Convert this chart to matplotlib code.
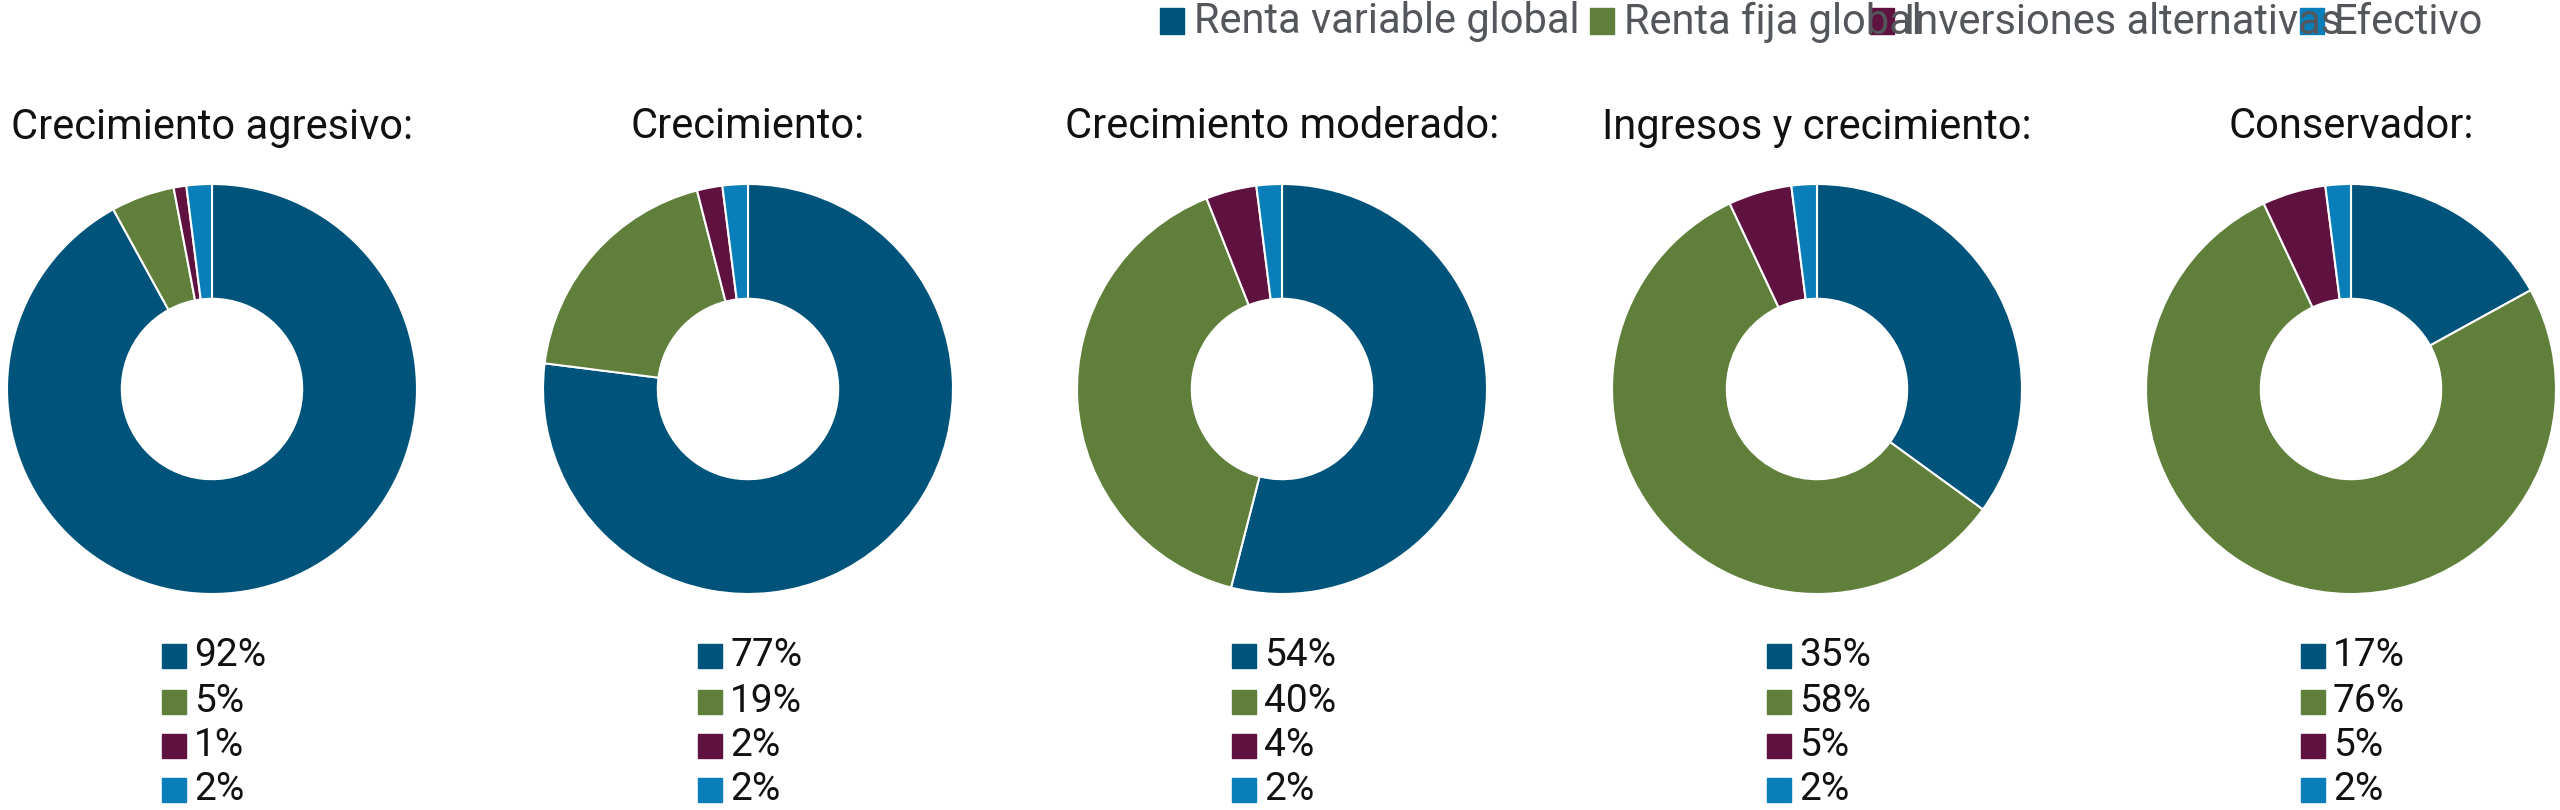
import matplotlib
matplotlib.use("Agg")
import matplotlib.pyplot as plt
from matplotlib.patches import Rectangle

titles = ["Crecimiento agresivo:", "Crecimiento:", "Crecimiento moderado:", "Ingresos y crecimiento:", "Conservador:"]
series = ["Renta variable global", "Renta fija global", "Inversiones alternativas", "Efectivo"]
renta_variable = [92, 77, 54, 35, 17]
renta_fija = [5, 19, 40, 58, 76]
alternativas = [1, 2, 4, 5, 5]
efectivo = [2, 2, 2, 2, 2]
colors = ["#00537A", "#5F7F3A", "#5F1240", "#0A7EB8"]

plt.rcParams['font.family'] = ['Liberation Sans Narrow', 'Roboto', 'DejaVu Sans']
W, H = 2560, 810
fig = plt.figure(figsize=(W/100, H/100), dpi=100)

centers = [212, 748, 1282, 1817, 2351]
cy, R = 389, 205
for i, cx in enumerate(centers):
    ax = fig.add_axes([(cx-R)/W, 1-(cy+R)/H, 2*R/W, 2*R/H])
    vals = [renta_variable[i], renta_fija[i], alternativas[i], efectivo[i]]
    ax.pie(vals, colors=colors, startangle=90, counterclock=False,
           wedgeprops=dict(width=0.56, edgecolor="white", linewidth=1.5))
    ax.set_aspect("equal")
    ax.set_xlim(-1, 1); ax.set_ylim(-1, 1)
    fig.text(cx/W, 1-127/H, titles[i], ha="center", va="center", fontsize=30, color="#111111")
    for j, y in enumerate([656, 702, 746, 790]):
        fig.patches.append(Rectangle(((cx-50)/W, 1-(y+12)/H), 24/W, 24/H,
                                     transform=fig.transFigure, color=colors[j]))
        fig.text((cx-18)/W, 1-y/H, f"{vals[j]}%", ha="left", va="center", fontsize=28, color="#111111")

# legend
lx = [1160, 1590, 1870, 2300]
for j, x in enumerate(lx):
    fig.patches.append(Rectangle((x/W, 1-34/H), 24/W, 26/H, transform=fig.transFigure, color=colors[j]))
    fig.text((x+34)/W, 1-22/H, series[j], ha="left", va="center", fontsize=30, color="#53565A")

fig.savefig("out.png", dpi=100)
